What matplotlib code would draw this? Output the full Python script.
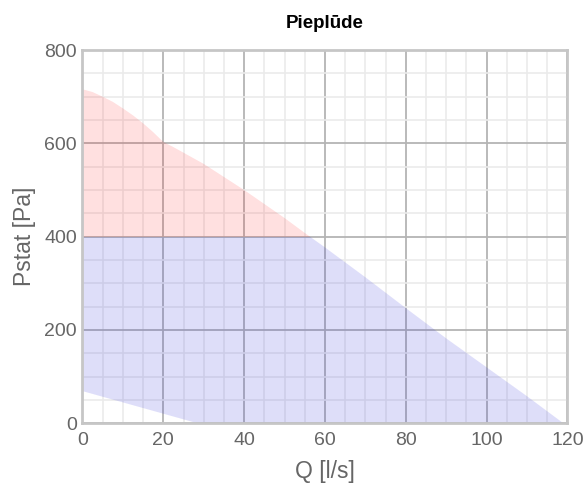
import matplotlib
matplotlib.use("Agg")
import matplotlib.pyplot as plt
from matplotlib.patches import Polygon, Rectangle
from matplotlib.ticker import MultipleLocator

plt.rcParams['font.family'] = ['Liberation Sans', 'DejaVu Sans']

# Data
q_max = [0, 2.5, 5, 7.5, 10, 12.5, 15, 17.5, 20, 22.5, 25, 30, 35, 40, 45, 50, 55,
         60, 70, 80, 90, 100, 110, 119]
p_max = [716, 710, 700, 689, 675, 660, 643, 624, 603, 592, 580, 556, 528, 500, 470, 440, 408,
         377, 313, 247, 182, 120, 58, 0]
q_min = [0, 28.5]
p_min = [69, 0]
p_limit = 400

title = "Pieplūde"
xlabel = "Q [l/s]"
ylabel = "Pstat [Pa]"
x_ticks = [0, 20, 40, 60, 80, 100, 120]
y_ticks = [0, 200, 400, 600, 800]

fig = plt.figure(figsize=(5.88, 4.86), dpi=100)
ax = fig.add_axes([0.1403, 0.129, 0.8248, 0.768])
ax.set_xlim(0, 120)
ax.set_ylim(0, 800)

ax.xaxis.set_minor_locator(MultipleLocator(5))
ax.yaxis.set_minor_locator(MultipleLocator(50))
ax.set_xticks(x_ticks)
ax.set_yticks(y_ticks)
ax.grid(which='minor', color='#ebebeb', linewidth=1.2, zorder=0)
ax.grid(which='major', color='#b4b4b4', linewidth=1.3, zorder=0)
ax.set_axisbelow(True)

# red region: above the limit, below the max curve
red_pts = list(zip(q_max, p_max)) + [(q_max[-1], 0), (0, 0)]
red = Polygon(red_pts, closed=True, facecolor=(1, 0, 0, 0.12), edgecolor='none', zorder=2)
ax.add_patch(red)
red.set_clip_path(Rectangle((0, p_limit), 120, 800 - p_limit, transform=ax.transData))

# blue region: between min curve and max curve, capped at limit
blue_pts = list(zip(q_min, p_min)) + [(q_max[-1], 0)] + list(zip(q_max[::-1], p_max[::-1]))
blue = Polygon(blue_pts, closed=True, facecolor=(40/255, 40/255, 220/255, 0.15), edgecolor='none', zorder=2)
ax.add_patch(blue)
blue.set_clip_path(Rectangle((0, 0), 120, p_limit, transform=ax.transData))

for s in ax.spines.values():
    s.set_color('#c6c6c6')
    s.set_linewidth(2.0)
    s.set_zorder(3)

ax.tick_params(which='both', length=0, labelsize=14, labelcolor='#666666')
ax.tick_params(axis='x', pad=6)
ax.tick_params(axis='y', pad=4)

ax.set_xlabel(xlabel, fontsize=16.5, color='#666666', labelpad=8)
ax.set_ylabel(ylabel, fontsize=16.5, color='#666666', labelpad=6)
ax.set_title(title, fontsize=13.5, fontweight='bold', color='black', pad=16)

fig.savefig("out.png", dpi=100)
